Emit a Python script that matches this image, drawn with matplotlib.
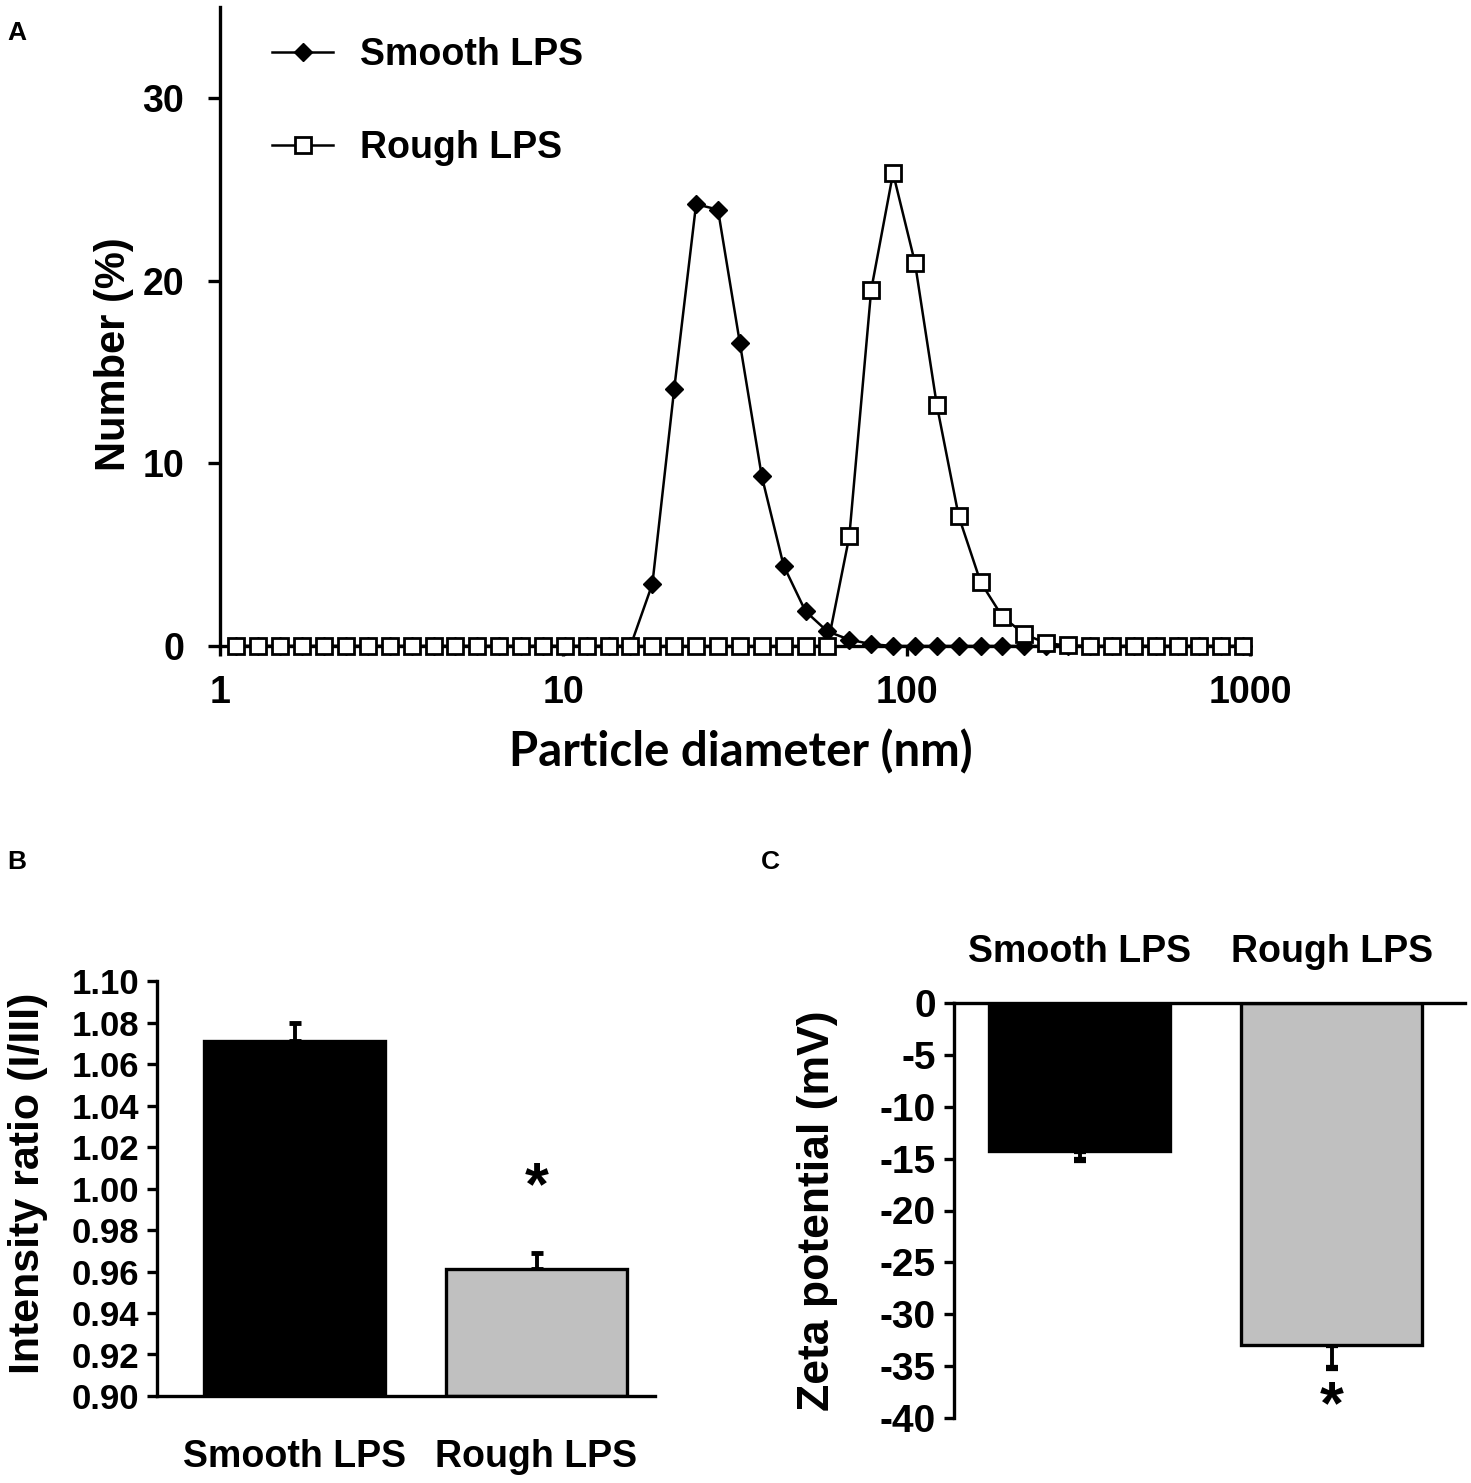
import matplotlib
matplotlib.use("Agg")
import matplotlib.pyplot as plt

plt.rcParams['font.family'] = ['Liberation Sans', 'DejaVu Sans']
plt.rcParams['font.weight'] = 'bold'
plt.rcParams['axes.unicode_minus'] = False

# Panel A: size distribution (Zetasizer bins)
diameter = [1.117, 1.294, 1.499, 1.736, 2.010, 2.328, 2.696, 3.122, 3.615, 4.187,
            4.849, 5.615, 6.503, 7.531, 8.721, 10.10, 11.70, 13.54, 15.69, 18.17,
            21.04, 24.36, 28.21, 32.67, 37.84, 43.82, 50.75, 58.77, 68.06, 78.82,
            91.28, 105.7, 122.4, 141.8, 164.2, 190.1, 220.2, 255.0, 295.3, 342.0,
            396.1, 458.7, 531.2, 615.1, 712.4, 825.0, 955.4]
smooth_num = [0] * 19 + [3.4, 14.1, 24.2, 23.9, 16.6, 9.3, 4.4, 1.9, 0.8, 0.35, 0.1] + [0] * 17
rough_num = [0] * 28 + [6.0, 19.5, 25.9, 21.0, 13.2, 7.1, 3.5, 1.6, 0.65, 0.15, 0.03] + [0] * 8

# Panels B and C
groups = ["Smooth LPS", "Rough LPS"]
ratio = [1.071, 0.961]
ratio_err = [0.009, 0.008]
zeta = [-14.3, -33.0]
zeta_err = [0.8, 2.2]
bar_colors = ['black', '#c0c0c0']

W, H = 1471, 1483
fig = plt.figure(figsize=(W / 100, H / 100), dpi=100)

lw = 2.4

# ---------- A ----------
axA = fig.add_axes([220 / W, 1 - 646 / H, 1030 / W, 639 / H])
axA.plot(diameter, smooth_num, color='black', lw=1.8, marker='D', ms=9,
         mfc='black', mec='black', clip_on=False, zorder=3, label='Smooth LPS')
axA.plot(diameter, rough_num, color='black', lw=1.8, marker='s', ms=12,
         mfc='white', mec='black', mew=2, clip_on=False, zorder=4, label='Rough LPS')
axA.set_xscale('log')
axA.set_xlim(1, 1000)
axA.set_ylim(0, 35)
axA.set_yticks([0, 10, 20, 30])
axA.set_xticks([1, 10, 100, 1000])
axA.set_xticklabels(['1', '10', '100', '1000'])
axA.xaxis.set_minor_locator(matplotlib.ticker.NullLocator())
for s in ['top', 'right']:
    axA.spines[s].set_visible(False)
for s in ['left', 'bottom']:
    axA.spines[s].set_linewidth(lw)
axA.tick_params(axis='y', direction='out', length=9, width=lw, pad=17, labelsize=27)
axA.tick_params(axis='x', direction='out', length=7, width=lw, pad=14, labelsize=27)
axA.legend(loc='upper left', bbox_to_anchor=(272 / W, 1 - 37 / H),
           bbox_transform=fig.transFigure, frameon=False, fontsize=27,
           borderpad=0, borderaxespad=0, handlelength=1.63, handletextpad=0.72,
           labelspacing=1.28 + 9 / 37.5)

fig.text(114 / W, 1 - 354 / H, 'Number (%)', rotation=90, ha='center', va='center',
         fontsize=30, fontweight='bold')
fig.text(741 / W, 1 - 752 / H, 'Particle diameter (nm)', ha='center', va='center',
         fontsize=34, fontweight='bold', family=['Lato', 'DejaVu Sans'])

# ---------- B ----------
axB = fig.add_axes([157 / W, 1 - 1396 / H, 498 / W, 415 / H])
xB = [0, 1]
axB.bar(xB, [r - 0.90 for r in ratio], bottom=0.90, width=0.75, color=bar_colors,
        edgecolor='black', linewidth=lw, zorder=2)
axB.errorbar(xB, ratio, yerr=[[0, 0], ratio_err], fmt='none', ecolor='black',
             elinewidth=2.8, capsize=4, capthick=3.5, zorder=1)
axB.set_xlim(-0.57, 1.49)
axB.set_ylim(0.90, 1.10)
axB.set_yticks([0.90 + 0.02 * i for i in range(11)])
axB.set_yticklabels(['%.2f' % (0.90 + 0.02 * i) for i in range(11)])
axB.set_xticks(xB)
axB.set_xticklabels(groups)
for s in ['top', 'right']:
    axB.spines[s].set_visible(False)
for s in ['left', 'bottom']:
    axB.spines[s].set_linewidth(lw)
axB.tick_params(axis='y', direction='out', length=7, width=lw, pad=6, labelsize=25)
axB.tick_params(axis='x', length=0, pad=31, labelsize=27)
axB.text(1, 1.0, '*', ha='center', va='center', fontsize=44, fontweight='bold')
fig.text(28 / W, 1 - 1183 / H, 'Intensity ratio (I/III)', rotation=90, ha='center',
         va='center', fontsize=31, fontweight='bold')

# ---------- C ----------
axC = fig.add_axes([954 / W, 1 - 1418 / H, 511 / W, 415 / H])
xC = [0, 1]
axC.bar(xC, zeta, width=0.72, color=bar_colors, edgecolor='black', linewidth=lw, zorder=2)
axC.errorbar(xC, zeta, yerr=[zeta_err, [0, 0]], fmt='none', ecolor='black',
             elinewidth=2.8, capsize=4, capthick=4.5, zorder=1)
axC.set_xlim(-0.5, 1.53)
axC.set_ylim(-40, 0)
axC.set_yticks(range(-40, 1, 5))
axC.set_xticks(xC)
axC.set_xticklabels(groups)
axC.xaxis.tick_top()
for s in ['bottom', 'right']:
    axC.spines[s].set_visible(False)
for s in ['left', 'top']:
    axC.spines[s].set_linewidth(lw)
axC.tick_params(axis='y', direction='out', length=7, width=lw, pad=6, labelsize=28)
axC.tick_params(axis='x', length=0, pad=24, labelsize=27)
axC.text(1, -39.0, '*', ha='center', va='center', fontsize=44, fontweight='bold')
fig.text(818 / W, 1 - 1211 / H, 'Zeta potential (mV)', rotation=90, ha='center',
         va='center', fontsize=32, fontweight='bold')

# panel letters
fig.text(17 / W, 1 - 33 / H, 'A', ha='center', va='center', fontsize=19, fontweight='bold')
fig.text(17 / W, 1 - 862 / H, 'B', ha='center', va='center', fontsize=19, fontweight='bold')
fig.text(770 / W, 1 - 862 / H, 'C', ha='center', va='center', fontsize=19, fontweight='bold')

fig.savefig('out.png', dpi=100)
